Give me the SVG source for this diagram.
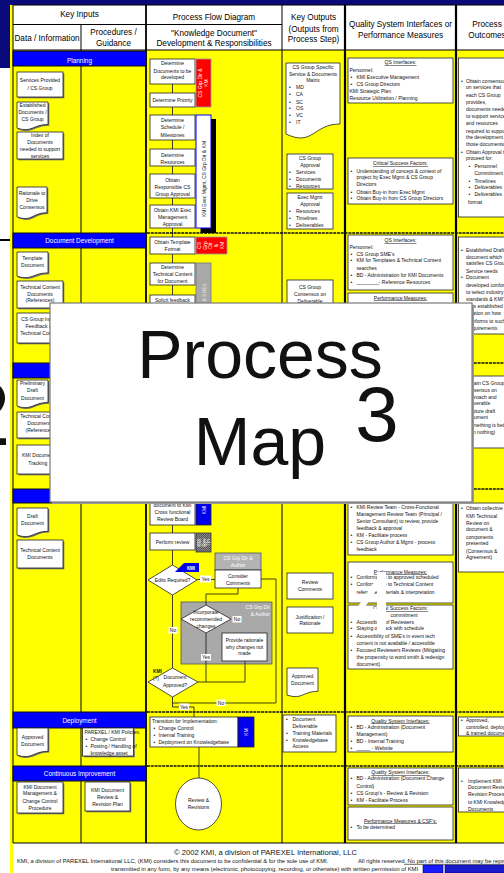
<svg xmlns="http://www.w3.org/2000/svg" width="504" height="873" viewBox="0 0 504 873">
<defs>
<style>
text{font-family:"Liberation Sans",Arial,sans-serif;fill:#111}
.s{font-size:5px}
.c{text-anchor:middle}
.h{font-size:8.2px;text-anchor:middle;fill:#000}
.bl{font-size:6.4px;fill:#fff;text-anchor:middle}
.u{text-decoration:underline}
.w{fill:#fff}
.bx{fill:#fff;stroke:#222;stroke-width:0.8}
.sd{fill:#6e6e6e}
.ln{stroke:#111;stroke-width:0.8;fill:none}
.gl{stroke:#000;fill:none}
.bar{fill:#0000ff;stroke:#111;stroke-width:1}
.sep{stroke:#111;stroke-width:1.6;stroke-dasharray:3 0.8}
.lab{fill:#fff}
</style>
<pattern id="chk" width="2" height="2" patternUnits="userSpaceOnUse">
<rect width="2" height="2" fill="#555"/>
<rect width="1" height="1" fill="#8a8a8a"/>
<rect x="1" y="1" width="1" height="1" fill="#8a8a8a"/>
</pattern>
</defs>

<!-- slide background -->
<g id="slide">
<rect width="504" height="873" fill="#fff"/>
<rect x="0" y="0" width="504" height="5" fill="#0a0a7a"/>
<rect x="0" y="0" width="10" height="68" fill="#0a0a7a"/>
<line x1="0" y1="240" x2="10" y2="240" stroke="#000" stroke-width="2"/>
<text x="10.5" y="445" font-size="91" text-anchor="end" fill="#000">2</text>
</g>

<!-- table frame -->
<g id="table">
<rect x="10" y="5" width="3" height="868" fill="#ffff00"/>
<rect x="13" y="5" width="491" height="45" fill="#fff"/>
<rect x="13" y="50" width="491" height="793" fill="#ffff00"/>
<rect x="13" y="843" width="491" height="30" fill="#fff"/>
<line class="gl" x1="13" y1="5" x2="504" y2="5" stroke-width="1"/>
<line class="gl" x1="13" y1="24.5" x2="282" y2="24.5" stroke-width="1"/>
<line class="gl" x1="13" y1="50" x2="504" y2="50" stroke-width="1.2"/>
<line class="gl" x1="13" y1="843" x2="504" y2="843" stroke-width="1.2"/>
<line class="gl" x1="13" y1="5" x2="13" y2="843" stroke-width="1"/>
<line class="gl" x1="81" y1="24.5" x2="81" y2="843" stroke-width="1"/>
<line class="gl" x1="146" y1="5" x2="146" y2="843" stroke-width="1.8"/>
<line class="gl" x1="282" y1="5" x2="282" y2="843" stroke-width="1"/>
<line class="gl" x1="345" y1="5" x2="345" y2="843" stroke-width="2.2"/>
<line class="gl" x1="456" y1="5" x2="456" y2="843" stroke-width="2.2"/>
<line class="sep" x1="147" y1="233" x2="504" y2="233"/>
<line class="sep" x1="147" y1="363" x2="504" y2="363"/>
<line class="sep" x1="147" y1="489" x2="504" y2="489"/>
<line class="sep" x1="147" y1="712" x2="504" y2="712"/>
<line class="sep" x1="147" y1="766" x2="504" y2="766"/>
</g>

<g id="headers">
<text class="h" x="79.5" y="17">Key Inputs</text>
<text class="h" x="47" y="40.8">Data / Information</text>
<text class="h" x="113.5" y="34.5">Procedures /</text>
<text class="h" x="113.5" y="45.5">Guidance</text>
<text class="h" x="214" y="19.5">Process Flow Diagram</text>
<text class="h" x="214" y="35.5">"Knowledge Document"</text>
<text class="h" x="214" y="45.5">Development &amp; Responsibilities</text>
<text class="h" x="313.5" y="20.3">Key Outputs</text>
<text class="h" x="313.5" y="32.3">(Outputs from</text>
<text class="h" x="313.5" y="42.3">Process Step)</text>
<text class="h" x="400.5" y="27">Quality System Interfaces or</text>
<text class="h" x="400.5" y="37.5">Performance Measures</text>
<text class="h" x="487" y="27">Process</text>
<text class="h" x="487" y="37.5">Outcomes</text>
</g>

<g id="phase-bars">
<rect class="bar" x="13" y="51" width="133" height="15"/>
<text class="bl" x="79.5" y="63">Planning</text>
<rect class="bar" x="13" y="233" width="133" height="15"/>
<text class="bl" x="79.5" y="243">Document Development</text>
<rect class="bar" x="13" y="363" width="133" height="15"/>
<rect class="bar" x="13" y="489" width="133" height="14"/>
<rect class="bar" x="13" y="712" width="133" height="16"/>
<text class="bl" x="79.5" y="722.5">Deployment</text>
<rect class="bar" x="13" y="766" width="133" height="15"/>
<text class="bl" x="79.5" y="775.5">Continuous Improvement</text>
</g>

<!-- key inputs: data / information and procedures -->
<g id="in-services">
<rect class="sd" x="18.3" y="73.3" width="46" height="25"/>
<rect class="bx" x="17" y="72" width="46" height="25"/>
<text class="s c" x="40" y="81.8">Services Provided</text>
<text class="s c" x="40" y="89.8">/ CS Group</text>
</g>
<g id="in-established">
<path class="sd" transform="translate(1.3,1.3)" d="M17 102H48V124.5C32.5 124.5 32.5 133 17 128.2Z"/>
<path class="bx" d="M17 102H48V124.5C32.5 124.5 32.5 133 17 128.2Z"/>
<text class="s c" x="32.5" y="106.5">Established</text>
<text class="s c" x="32.5" y="113.5">Documents /</text>
<text class="s c" x="32.5" y="120.5">CS Group</text>
</g>
<g id="in-index">
<rect class="sd" x="18.3" y="133.3" width="46" height="27"/>
<rect class="bx" x="17" y="132" width="46" height="27"/>
<text class="s c" x="40" y="137">Index of</text>
<text class="s c" x="40" y="144">Documents</text>
<text class="s c" x="40" y="151">needed to support</text>
<text class="s c" x="40" y="157.5">services</text>
</g>
<g id="in-rationale">
<path class="sd" transform="translate(1.3,1.3)" d="M17 187H47V212.7C32 212.7 32 222.4 17 216.9Z"/>
<path class="bx" d="M17 187H47V212.7C32 212.7 32 222.4 17 216.9Z"/>
<text class="s c" x="32" y="195">Rationale to</text>
<text class="s c" x="32" y="201.5">Drive</text>
<text class="s c" x="32" y="208.5">Consensus</text>
</g>
<g id="in-template">
<path class="sd" transform="translate(1.3,1.3)" d="M17 252H48V272.9C32.5 272.9 32.5 280.8 17 276.3Z"/>
<path class="bx" d="M17 252H48V272.9C32.5 272.9 32.5 280.8 17 276.3Z"/>
<text class="s c" x="32.5" y="259.8">Template</text>
<text class="s c" x="32.5" y="266.8">Document</text>
</g>
<g id="in-techref1">
<rect class="sd" x="18.3" y="282.3" width="46" height="27"/>
<rect class="bx" x="17" y="281" width="46" height="27"/>
<text class="s c" x="40" y="289">Technical Content</text>
<text class="s c" x="40" y="295.5">Documents</text>
<text class="s c" x="40" y="302">(References)</text>
</g>
<g id="in-feedback">
<rect class="sd" x="18.3" y="314.3" width="46" height="30"/>
<rect class="bx" x="17" y="313" width="46" height="30"/>
<text class="s c" x="40" y="321">CS Group Input /</text>
<text class="s c" x="40" y="328">Feedback on</text>
<text class="s c" x="40" y="335">Technical Content</text>
</g>
<g id="in-prelim">
<path class="sd" transform="translate(1.3,1.3)" d="M17 380H48V402.5C32.5 402.5 32.5 411 17 406.2Z"/>
<path class="bx" d="M17 380H48V402.5C32.5 402.5 32.5 411 17 406.2Z"/>
<text class="s c" x="32.5" y="385">Preliminary</text>
<text class="s c" x="32.5" y="392">Draft</text>
<text class="s c" x="32.5" y="400">Document</text>
</g>
<g id="in-techref2">
<rect class="sd" x="18.3" y="413.3" width="46" height="26"/>
<rect class="bx" x="17" y="412" width="46" height="26"/>
<text class="s c" x="40" y="417.5">Technical Content</text>
<text class="s c" x="40" y="424.5">Documents</text>
<text class="s c" x="40" y="431.5">(References)</text>
</g>
<g id="in-tracking">
<rect class="sd" x="18.3" y="446.3" width="46" height="29"/>
<rect class="bx" x="17" y="445" width="46" height="29"/>
<text class="s" x="22" y="456.8">KMI Document</text>
<text class="s" x="28.3" y="465">Tracking</text>
</g>
<g id="in-draft">
<path class="sd" transform="translate(1.3,1.3)" d="M17 508H48V531.3C32.5 531.3 32.5 540.1 17 535.1Z"/>
<path class="bx" d="M17 508H48V531.3C32.5 531.3 32.5 540.1 17 535.1Z"/>
<text class="s c" x="32.5" y="518">Draft</text>
<text class="s c" x="32.5" y="525">Document</text>
</g>
<g id="in-techcontent">
<rect class="sd" x="18.3" y="541.3" width="46" height="28"/>
<rect class="bx" x="17" y="540" width="46" height="28"/>
<text class="s c" x="40" y="551.8">Technical Content</text>
<text class="s c" x="40" y="558.5">Documents</text>
</g>
<g id="in-approved">
<path class="sd" transform="translate(1.3,1.3)" d="M17 728H48V751.3C32.5 751.3 32.5 760.1 17 755.1Z"/>
<path class="bx" d="M17 728H48V751.3C32.5 751.3 32.5 760.1 17 755.1Z"/>
<text class="s c" x="32.5" y="739">Approved</text>
<text class="s c" x="32.5" y="746">Document</text>
</g>
<g id="in-policies">
<rect class="sd" x="83.8" y="729.3" width="51" height="28"/>
<rect class="bx" x="82.5" y="728" width="51" height="28"/>
<text class="s" x="84.5" y="733.5">PAREXEL / KMI Policies:</text>
<text class="s" x="85.5" y="740.8">•</text><text class="s" x="90.5" y="740.8">Change Control</text>
<text class="s" x="85.5" y="747.8">•</text><text class="s" x="90.5" y="747.8">Posting / Handling of</text>
<text class="s" x="90.5" y="754.5">knowledge asset</text>
</g>
<g id="in-changecontrol">
<rect class="sd" x="18.3" y="783.3" width="46" height="31"/>
<rect class="bx" x="17" y="782" width="46" height="31"/>
<text class="s c" x="40" y="788.5">KMI Document</text>
<text class="s c" x="40" y="795">Management &amp;</text>
<text class="s c" x="40" y="802.5">Change Control</text>
<text class="s c" x="40" y="809.5">Procedure</text>
</g>
<g id="in-revisionplan">
<rect class="sd" x="86.3" y="783.3" width="45" height="29"/>
<rect class="bx" x="85" y="782" width="45" height="29"/>
<text class="s c" x="107.5" y="791.8">KMI Document</text>
<text class="s c" x="107.5" y="798.5">Review &amp;</text>
<text class="s c" x="107.5" y="805.8">Revision Plan</text>
</g>

<!-- process flow connectors -->
<g id="connectors">
<path class="ln" d="M172.5 84V93M172.5 107V115M172.5 140V149M172.5 166V174M172.5 198V205M172.5 228V237M172.5 254V263M172.5 285V295"/>
<path class="ln" d="M172.5 525V533M172.5 550V565"/>
<path class="ln" d="M197 579.5H215"/>
<path class="ln" d="M238 588V594H206V605"/>
<path class="ln" d="M261 579H276V703H172.5"/>
<path class="ln" d="M172.5 595V668"/>
<path class="ln" d="M231 619H245V633"/>
<path class="ln" d="M206 633V682H198"/>
<path class="ln" d="M245 661V682H206"/>
<path class="ln" d="M172.5 697V707H194V717"/>
<path class="ln" d="M199 747V778"/>
</g>

<!-- process flow: planning -->
<g id="p-determine-docs">
<rect class="bx" x="150" y="59" width="45" height="25"/>
<text class="s c" x="172.5" y="65">Determine</text>
<text class="s c" x="172.5" y="72.5">Documents to be</text>
<text class="s c" x="172.5" y="79">developed</text>
</g>
<g id="r-csgrp1">
<rect x="196" y="59" width="15" height="48" fill="#ff0000" stroke="#9a9a9a" stroke-width="0.8"/>
<text class="s c w" transform="translate(202,83) rotate(-90)">CS Grp Dir &amp;</text>
<text class="s c w" transform="translate(208.3,83) rotate(-90)">KM</text>
</g>
<g id="p-priority">
<rect class="bx" x="150" y="93" width="45" height="14"/>
<text class="s c" x="172.5" y="101.8">Determine Priority</text>
</g>
<g id="p-schedule">
<rect class="bx" x="150" y="115" width="45" height="25"/>
<text class="s c" x="172.5" y="122">Determine</text>
<text class="s c" x="172.5" y="128.5">Schedule /</text>
<text class="s c" x="172.5" y="136.5">Milestones</text>
</g>
<g id="p-resources">
<rect class="bx" x="150" y="149" width="45" height="17"/>
<text class="s c" x="172.5" y="157">Determine</text>
<text class="s c" x="172.5" y="163.5">Resources</text>
</g>
<g id="p-cs-approval">
<rect class="bx" x="150" y="174" width="45" height="24"/>
<text class="s c" x="172.5" y="182">Obtain</text>
<text class="s c" x="172.5" y="189">Responsible CS</text>
<text class="s c" x="172.5" y="196">Group Approval</text>
</g>
<g id="p-exec-approval">
<rect class="bx" x="150" y="205" width="45" height="23"/>
<text class="s c" x="172.5" y="212">Obtain KMI Exec</text>
<text class="s c" x="172.5" y="219">Management</text>
<text class="s c" x="172.5" y="226">Approval</text>
</g>
<g id="r-exec">
<rect x="200.5" y="119" width="15.5" height="114" fill="#000"/>
<rect x="196" y="115" width="15" height="113" fill="#fff" stroke="#0000ff" stroke-width="1"/>
<text class="s c" transform="translate(206.3,179) rotate(-90)">KMI Exec Mgmt, CS Grp Dir &amp; KM</text>
</g>

<!-- process flow: document development -->
<g id="p-template">
<rect class="bx" x="150" y="237" width="45" height="17"/>
<text class="s c" x="172.5" y="244">Obtain Template</text>
<text class="s c" x="172.5" y="251">Format</text>
</g>
<g id="r-csgrp2">
<rect x="196" y="237" width="31" height="17" fill="#ff0000" stroke="#9a9a9a" stroke-width="0.8"/>
<text class="s c w" transform="translate(201,245.5) rotate(-90)">CS</text>
<text class="s c w" transform="translate(206.5,245.5) rotate(-90)">Grp</text>
<text class="s c w" transform="translate(212,245.5) rotate(-90)">Dir</text>
<text class="s c w" transform="translate(217.5,245.5) rotate(-90)">&amp;</text>
<text class="s c w" transform="translate(223.5,245.5) rotate(-90)">KM</text>
</g>
<g id="p-techcontent">
<rect class="bx" x="150" y="263" width="45" height="22"/>
<text class="s c" x="172.5" y="269">Determine</text>
<text class="s c" x="172.5" y="276">Technical Content</text>
<text class="s c" x="172.5" y="283">for Document</text>
</g>
<g id="r-sme">
<rect x="196" y="263" width="15" height="90" fill="#a8a8a8" stroke="#777" stroke-width="0.8"/>
<text class="s c" style="fill:#e6e6e6" transform="translate(205.5,305.5) rotate(-90)">CS Grp Dir &amp; SMEs</text>
</g>
<g id="p-feedback">
<rect class="bx" x="150" y="295" width="45" height="30"/>
<text class="s c" x="172.5" y="302">Solicit feedback</text>
</g>

<!-- process flow: review -->
<g id="p-review-board">
<rect class="bx" x="150" y="490" width="45" height="35"/>
<text class="s c" x="172.5" y="507">document to KMI</text>
<text class="s c" x="172.5" y="513.8">Cross functional</text>
<text class="s c" x="172.5" y="521">Review Board</text>
</g>
<g id="r-kmi1">
<rect x="196" y="490" width="15" height="35" fill="#0000ee" stroke="#222" stroke-width="0.8"/>
<text class="s c w" transform="translate(205.5,510) rotate(-90)">KMI</text>
</g>
<g id="p-perform">
<rect class="bx" x="150" y="533" width="45" height="17"/>
<text class="s c" x="172.5" y="543.5">Perform review</text>
</g>
<g id="r-revtm">
<rect x="196" y="533" width="15" height="19" fill="url(#chk)" stroke="#333" stroke-width="0.8"/>
<text class="w c" font-size="4.5" transform="translate(201,542.5) rotate(-90)">KMI</text>
<text class="w c" font-size="4.5" transform="translate(205.5,542.5) rotate(-90)">Rev</text>
<text class="w c" font-size="4.5" transform="translate(210,542.5) rotate(-90)">Tm</text>
</g>
<g id="d-edits">
<polygon class="bx" points="148,580 172.5,565 197,580 172.5,595"/>
<polygon points="184,563 199,563 199,572 175,572" fill="#0000ee"/>
<text class="w c" font-size="4.5" font-weight="bold" x="191" y="570">KMI</text>
<text class="s c" x="172.5" y="581.8">Edits Required?</text>
</g>
<g id="p-consider">
<rect x="215" y="553" width="46" height="17" fill="#b3b3b3" stroke="#555" stroke-width="0.8"/>
<text class="s c w" x="238" y="560">CS Grp Dir &amp;</text>
<text class="s c w" x="238" y="566.8">Author</text>
<rect class="bx" x="215" y="570" width="46" height="18"/>
<text class="s c" x="238" y="577.8">Consider</text>
<text class="s c" x="238" y="584.5">Comments</text>
</g>
<g id="p-author-group">
<rect x="181" y="602" width="91" height="62" fill="#a9a9a9" stroke="#555" stroke-width="0.8"/>
<text class="s w" x="270" y="608.5" text-anchor="end">CS Grp Dir</text>
<text class="s w" x="270" y="615.5" text-anchor="end">&amp; Author</text>
<path class="ln" d="M206 602V605"/>
<polygon class="bx" points="181,619 206,605 231,619 206,633"/>
<text class="s c" x="206" y="613.8">Incorporate</text>
<text class="s c" x="206" y="620.8">recommended</text>
<text class="s c" x="206" y="627.5">changes</text>
<rect class="bx" x="222" y="633" width="45" height="28"/>
<text class="s c" x="244.5" y="641.8">Provide rationale</text>
<text class="s c" x="244.5" y="648.5">why changes not</text>
<text class="s c" x="244.5" y="655">made</text>
<path class="ln" d="M206 633V664M245 661V664"/>
</g>
<g id="d-approved">
<polygon class="bx" points="148,682 172.5,668 198,682 172.5,697"/>
<text class="s c" x="175" y="679.3">Document</text>
<text class="s c" x="175" y="686.8">Approved?</text>
<text x="157.5" y="673" font-size="4.8" font-weight="bold" text-anchor="middle">KMI</text>
<text x="156" y="679.8" font-size="4.8" text-anchor="middle">(?)</text>
</g>
<g id="flow-labels">
<rect class="lab" x="200" y="575.5" width="11" height="7"/>
<text class="s c" x="205.5" y="581">Yes</text>
<rect class="lab" x="168.5" y="627" width="9" height="6.5"/>
<text class="s c" x="173" y="632.3">No</text>
<rect class="lab" x="232.5" y="616" width="9" height="6.5"/>
<text class="s c" x="237" y="621.3">No</text>
<rect class="lab" x="201" y="654" width="10" height="6.5"/>
<text class="s c" x="206" y="659.3">Yes</text>
<rect class="lab" x="216.5" y="699.5" width="9" height="6.5"/>
<text class="s c" x="221" y="704.8">No</text>
<rect class="lab" x="179" y="703.5" width="10" height="6.5"/>
<text class="s c" x="184" y="708.8">Yes</text>
</g>

<!-- process flow: deployment and improvement -->
<g id="p-transition">
<rect class="bx" x="150" y="717" width="88" height="30"/>
<text class="s" x="152" y="722.8">Transition for Implementation:</text>
<text class="s" x="153.5" y="729.5">•</text><text class="s" x="158.5" y="729.5">Change Control</text>
<text class="s" x="153.5" y="736.8">•</text><text class="s" x="158.5" y="736.8">Internal Training</text>
<text class="s" x="153.5" y="744">•</text><text class="s" x="158.5" y="744">Deployment on Knowledgebase</text>
</g>
<g id="r-km">
<rect x="238" y="717" width="16" height="30" fill="#0000ee" stroke="#222" stroke-width="0.8"/>
<text class="s c w" transform="translate(248,732) rotate(-90)">KM</text>
</g>
<g id="p-revisions">
<ellipse cx="198.5" cy="804" rx="23" ry="26" fill="#fff" stroke="#222" stroke-width="0.8"/>
<text class="s c" x="198.5" y="801.8">Review &amp;</text>
<text class="s c" x="198.5" y="808.5">Revisions</text>
</g>

<!-- key outputs -->
<g id="o-matrix">
<path class="bx" d="M286 63H340V124C313 124 313 147 286 134Z"/>
<text class="s c" x="313" y="69">CS Group Specific</text>
<text class="s c" x="313" y="75.5">Service &amp; Documents</text>
<text class="s c" x="313" y="82">Matrix</text>
<text class="s" x="289" y="89">•</text><text class="s" x="296" y="89">MD</text>
<text class="s" x="289" y="96">•</text><text class="s" x="296" y="96">CA</text>
<text class="s" x="289" y="103.5">•</text><text class="s" x="296" y="103.5">SC</text>
<text class="s" x="289" y="110">•</text><text class="s" x="296" y="110">OS</text>
<text class="s" x="289" y="117">•</text><text class="s" x="296" y="117">VC</text>
<text class="s" x="289" y="124">•</text><text class="s" x="296" y="124">IT</text>
</g>
<g id="o-cs-approval">
<rect class="bx" x="287" y="154" width="46" height="35"/>
<text class="s c" x="310" y="160">CS Group</text>
<text class="s c" x="310" y="167">Approval</text>
<text class="s" x="289" y="174">•</text><text class="s" x="296" y="174">Services</text>
<text class="s" x="289" y="181">•</text><text class="s" x="296" y="181">Documents</text>
<text class="s" x="289" y="187.5">•</text><text class="s" x="296" y="187.5">Resources</text>
</g>
<g id="o-exec-approval">
<rect class="bx" x="287" y="193" width="46" height="36"/>
<text class="s c" x="310" y="198.5">Exec Mgmt</text>
<text class="s c" x="310" y="205.5">Approval</text>
<text class="s" x="289" y="212.5">•</text><text class="s" x="296" y="212.5">Resources</text>
<text class="s" x="289" y="219.5">•</text><text class="s" x="296" y="219.5">Timelines</text>
<text class="s" x="289" y="226.5">•</text><text class="s" x="296" y="226.5">Deliverables</text>
</g>
<g id="o-consensus">
<rect class="bx" x="287" y="280" width="46" height="30"/>
<text class="s c" x="310" y="288.5">CS Group</text>
<text class="s c" x="310" y="296">Consensus on</text>
<text class="s c" x="310" y="302.5">Deliverable</text>
</g>
<g id="o-review-comments">
<rect class="bx" x="287" y="573" width="46" height="26"/>
<text class="s c" x="310" y="583.5">Review</text>
<text class="s c" x="310" y="590.8">Comments</text>
</g>
<g id="o-justification">
<rect class="bx" x="287" y="607" width="46" height="26"/>
<text class="s c" x="310" y="618.5">Justification /</text>
<text class="s c" x="310" y="625">Rationale</text>
</g>
<g id="o-approved">
<path class="bx" d="M287 668H318V691.3C302.5 691.3 302.5 700.1 287 695.1Z"/>
<text class="s c" x="302.5" y="677.5">Approved</text>
<text class="s c" x="302.5" y="684.5">Document</text>
</g>
<g id="o-deliverables">
<rect class="bx" x="283" y="715" width="53" height="37"/>
<text class="s" x="286" y="721">•</text><text class="s" x="292.5" y="721">Document</text>
<text class="s" x="292.5" y="728">Deliverable</text>
<text class="s" x="286" y="734.5">•</text><text class="s" x="292.5" y="734.5">Training Materials</text>
<text class="s" x="286" y="742">•</text><text class="s" x="292.5" y="742">Knowledgebase</text>
<text class="s" x="292.5" y="748">Access</text>
</g>

<!-- quality system interfaces / performance measures -->
<g id="q-plan-qs">
<rect class="bx" x="348" y="58" width="105" height="45"/>
<text class="s c u" x="400.5" y="64">QS Interfaces:</text>
<text class="s" x="349.5" y="71.8">Personnel:</text>
<text class="s" x="350.5" y="78.5">•</text><text class="s" x="356.5" y="78.5">KMI Executive Management</text>
<text class="s" x="350.5" y="85.8">•</text><text class="s" x="356.5" y="85.8">CS Group Directors</text>
<text class="s" x="349.5" y="92.8">KMI Strategic Plan</text>
<text class="s" x="349.5" y="100">Resource Utilization / Planning</text>
</g>
<g id="q-plan-csf">
<rect class="bx" x="348" y="158" width="105" height="46"/>
<text class="s c u" x="400.5" y="165">Critical Success Factors:</text>
<text class="s" x="350.5" y="172.8">•</text><text class="s" x="356.5" y="172.8">Understanding of concept &amp; context of</text>
<text class="s" x="356.5" y="179">project by Exec Mgmt &amp; CS Group</text>
<text class="s" x="356.5" y="185.8">Directors</text>
<text class="s" x="350.5" y="193.8">•</text><text class="s" x="356.5" y="193.8">Obtain Buy-in from Exec Mgmt</text>
<text class="s" x="350.5" y="200">•</text><text class="s" x="356.5" y="200">Obtain Buy-in from CS Group Directors</text>
</g>
<g id="q-dev-qs">
<rect class="bx" x="348" y="235" width="105" height="55"/>
<text class="s c u" x="400.5" y="242">QS Interfaces:</text>
<text class="s" x="349.5" y="249">Personnel:</text>
<text class="s" x="350.5" y="255.5">•</text><text class="s" x="356.5" y="255.5">CS Group SME's</text>
<text class="s" x="350.5" y="262">•</text><text class="s" x="356.5" y="262">KM for Templates &amp; Technical Content</text>
<text class="s" x="356.5" y="269.5">searches</text>
<text class="s" x="350.5" y="276.8">•</text><text class="s" x="356.5" y="276.8">BD - Administration for KMI Documents</text>
<text class="s" x="350.5" y="283.8">•</text><text class="s" x="356.5" y="283.8">________- Reference Resources</text>
</g>
<g id="q-dev-pm">
<rect class="bx" x="348" y="293" width="105" height="40"/>
<text class="s c u" x="400.5" y="299.5">Performance Measures:</text>
</g>
<g id="q-rev-qs">
<rect class="bx" x="348" y="488" width="105" height="67"/>
<text class="s" x="350.5" y="508.5">•</text><text class="s" x="356.5" y="508.5">KMI Review Team - Cross-Functional</text>
<text class="s" x="356.5" y="515.8">Management Review Team (Principal /</text>
<text class="s" x="356.5" y="522.8">Senior Consultant) to review, provide</text>
<text class="s" x="356.5" y="529.5">feedback &amp; approval</text>
<text class="s" x="350.5" y="536.8">•</text><text class="s" x="356.5" y="536.8">KM - Facilitate process</text>
<text class="s" x="350.5" y="543.5">•</text><text class="s" x="356.5" y="543.5">CS Group Author &amp; Mgmt - process</text>
<text class="s" x="356.5" y="550.8">feedback</text>
</g>
<g id="q-rev-pm">
<rect class="bx" x="348" y="562" width="105" height="41"/>
<text class="s c u" x="400.5" y="573.5">Performance Measures:</text>
<text class="s" x="350.5" y="579">•</text><text class="s" x="356.5" y="579">Conformance to approved scheduled</text>
<text class="s" x="350.5" y="586">•</text><text class="s" x="356.5" y="586">Conformance to Technical Content</text>
<text class="s" x="356.5" y="593.5">reference materials &amp; interpretation</text>
</g>
<g id="q-rev-csf">
<rect class="bx" x="348" y="605" width="105" height="64"/>
<text class="s c u" x="400.5" y="610">Critical Success Factors:</text>
<text class="s" x="390.5" y="616.8">commitment</text>
<text class="s" x="350.5" y="623.5">•</text><text class="s" x="356.5" y="623.5">Accessibility of Reviewers</text>
<text class="s" x="350.5" y="630">•</text><text class="s" x="356.5" y="630">Staying on track with schedule</text>
<text class="s" x="350.5" y="637.8">•</text><text class="s" x="356.5" y="637.8">Accessibility of SME's in event tech</text>
<text class="s" x="356.5" y="644.5">content is not available / accessible</text>
<text class="s" x="350.5" y="651.8">•</text><text class="s" x="356.5" y="651.8">Focused Reviewers Reviews (Mitigating</text>
<text class="s" x="356.5" y="658.5">the propensity to word smith &amp; redesign</text>
<text class="s" x="356.5" y="665.8">document)</text>
</g>
<g id="q-mark">
<rect x="377" y="572" width="9" height="58" fill="#fff"/>
<line x1="378" y1="582" x2="358" y2="612" stroke="#fff" stroke-width="6"/>
<rect x="355" y="609" width="23" height="7" fill="#fff"/>
</g>
<g id="q-dep-qs">
<rect class="bx" x="348" y="716" width="105" height="36"/>
<text class="s c u" x="400.5" y="722.5">Quality System Interfaces:</text>
<text class="s" x="350.5" y="729">•</text><text class="s" x="356.5" y="729">BD - Administration (Document</text>
<text class="s" x="356.5" y="735.8">Management)</text>
<text class="s" x="350.5" y="742.8">•</text><text class="s" x="356.5" y="742.8">BD - Internal Training</text>
<text class="s" x="350.5" y="749.5">•</text><text class="s" x="356.5" y="749.5">_____ - Website</text>
</g>
<g id="q-ci-qs">
<rect class="bx" x="348" y="768" width="105" height="37"/>
<text class="s c u" x="400.5" y="774">Quality System Interfaces:</text>
<text class="s" x="350.5" y="780">•</text><text class="s" x="356.5" y="780">BD - Administration (Document Change</text>
<text class="s" x="356.5" y="787.5">Control)</text>
<text class="s" x="350.5" y="794.5">•</text><text class="s" x="356.5" y="794.5">CS Group's - Review &amp; Revision</text>
<text class="s" x="350.5" y="801.8">•</text><text class="s" x="356.5" y="801.8">KM - Facilitate Process</text>
</g>
<g id="q-ci-pm">
<rect class="bx" x="348" y="807" width="105" height="33"/>
<text class="s c u" x="400.5" y="822.5">Performance Measures &amp; CSF's:</text>
<text class="s" x="350.5" y="828.5">•</text><text class="s" x="356.5" y="828.5">To be determined</text>
</g>

<!-- process outcomes -->
<g id="oc-plan">
<rect class="bx" x="458.5" y="58" width="60" height="159"/>
<text class="s" x="461" y="82.5">•</text><text class="s" x="466" y="82.5">Obtain consensus</text>
<text class="s" x="466" y="89">on services that</text>
<text class="s" x="466" y="96.8">each CS Group</text>
<text class="s" x="466" y="103.5">provides,</text>
<text class="s" x="466" y="111">documents needed</text>
<text class="s" x="466" y="117.8">to support services</text>
<text class="s" x="466" y="125">and resources</text>
<text class="s" x="466" y="132.5">required to support</text>
<text class="s" x="466" y="139">the development of</text>
<text class="s" x="466" y="145.8">those documents</text>
<text class="s" x="461" y="153.5">•</text><text class="s" x="466" y="153.5">Obtain Approval to</text>
<text class="s" x="466" y="160">proceed for:</text>
<text class="s" x="468.5" y="167.8">•</text><text class="s" x="474.5" y="167.8">Personnel</text>
<text class="s" x="474.5" y="174.5">Commitment</text>
<text class="s" x="468.5" y="182.5">•</text><text class="s" x="474.5" y="182.5">Timelines</text>
<text class="s" x="468.5" y="189">•</text><text class="s" x="474.5" y="189">Deliverables</text>
<text class="s" x="468.5" y="195.8">•</text><text class="s" x="474.5" y="195.8">Deliverables</text>
<text class="s" x="468" y="203.5">format</text>
</g>
<g id="oc-dev">
<rect class="bx" x="458.5" y="237" width="60" height="97"/>
<text class="s" x="461" y="251.8">•</text><text class="s" x="466" y="251.8">Established Draft</text>
<text class="s" x="466" y="258.5">document which</text>
<text class="s" x="466" y="265">satisfies CS Group</text>
<text class="s" x="466" y="272.5">Service needs</text>
<text class="s" x="461" y="279">•</text><text class="s" x="466" y="279">Document</text>
<text class="s" x="466" y="286.8">developed conforming</text>
<text class="s" x="466" y="293.5">to select industry</text>
<text class="s" x="466" y="301">standards &amp; KMI's</text>
<text class="s" x="472.5" y="307.8">is established</text>
<text class="s" x="472.5" y="315">ation on how</text>
<text class="s" x="472.5" y="322.5">nforms to such</text>
<text class="s" x="472.5" y="330">quirements</text>
</g>
<g id="oc-draft">
<rect class="bx" x="458.5" y="376" width="60" height="72"/>
<text class="s" x="466" y="385">Obtain CS Group</text>
<text class="s" x="466" y="391.8">consensus on</text>
<text class="s" x="466" y="398.5">approach and</text>
<text class="s" x="466" y="405">deliverable</text>
<text class="s" x="466" y="412.5">Capture draft</text>
<text class="s" x="466" y="419">document</text>
<text class="s" x="466" y="426.8">(something is better</text>
<text class="s" x="466" y="434">than nothing)</text>
</g>
<g id="oc-review">
<rect class="bx" x="458.5" y="503" width="60" height="69"/>
<text class="s" x="461" y="510">•</text><text class="s" x="466" y="510">Obtain collective</text>
<text class="s" x="466" y="517.8">KMI Technical</text>
<text class="s" x="466" y="524.5">Review on</text>
<text class="s" x="466" y="531">document &amp;</text>
<text class="s" x="466" y="538.5">components</text>
<text class="s" x="466" y="545">presented</text>
<text class="s" x="466" y="552.5">(Consensus &amp;</text>
<text class="s" x="466" y="559">Agreement)</text>
</g>
<g id="oc-deploy">
<rect class="bx" x="458.5" y="717" width="60" height="19"/>
<text class="s" x="461" y="721.8">•</text><text class="s" x="466" y="721.8">Approved,</text>
<text class="s" x="466" y="728.5">controlled, deployed</text>
<text class="s" x="466" y="735">&amp; trained document</text>
</g>
<g id="oc-ci">
<rect class="bx" x="458.5" y="768" width="60" height="44"/>
<text class="s" x="461" y="782.5">•</text><text class="s" x="468" y="782.5">Implement KMI</text>
<text class="s" x="468" y="789">Document Review &amp;</text>
<text class="s" x="468" y="796">Revision Process</text>
<text class="s" x="468" y="803.5">to KMI Knowledgebase</text>
<text class="s" x="468" y="810.8">Documents</text>
</g>

<!-- title card -->
<g id="title-card">
<rect x="52" y="305" width="422" height="199" fill="#9a9a9a"/>
<rect x="50" y="303" width="422" height="199" fill="#fff" stroke="#7a7a7a" stroke-width="1.2"/>
<text x="260" y="378" font-size="68" text-anchor="middle" fill="#000">Process</text>
<text x="260" y="465" font-size="68" text-anchor="middle" fill="#000">Map</text>
<text x="377" y="441" font-size="78" text-anchor="middle" fill="#000">3</text>
</g>

<!-- footer -->
<g id="footer">
<text x="265.5" y="855" font-size="7.6" text-anchor="middle" fill="#000">© 2002 KMI, a division of PAREXEL International, LLC</text>
<text x="17" y="863.3" font-size="5.8">KMI, a division of PAREXEL International LLC, (KMI) considers this document to be confidential &amp; for the sole use of KMI.</text>
<text x="358" y="863.3" font-size="5.8">All rights reserved. No part of this document may be reproduced or</text>
<line x1="404" y1="864.3" x2="504" y2="864.3" stroke="#000" stroke-width="0.6"/>
<text x="264.5" y="870.8" font-size="5.8" text-anchor="middle">transmitted in any form, by any means (electronic, photocopying, recording, or otherwise) with written permission of KMI</text>
<rect x="423" y="865" width="20" height="8" fill="#1a1aff" stroke="#000066" stroke-width="0.6"/>
<rect x="445" y="865" width="60" height="8" fill="#1a1acc" stroke="#000066" stroke-width="0.6"/>
</g>
</svg>
